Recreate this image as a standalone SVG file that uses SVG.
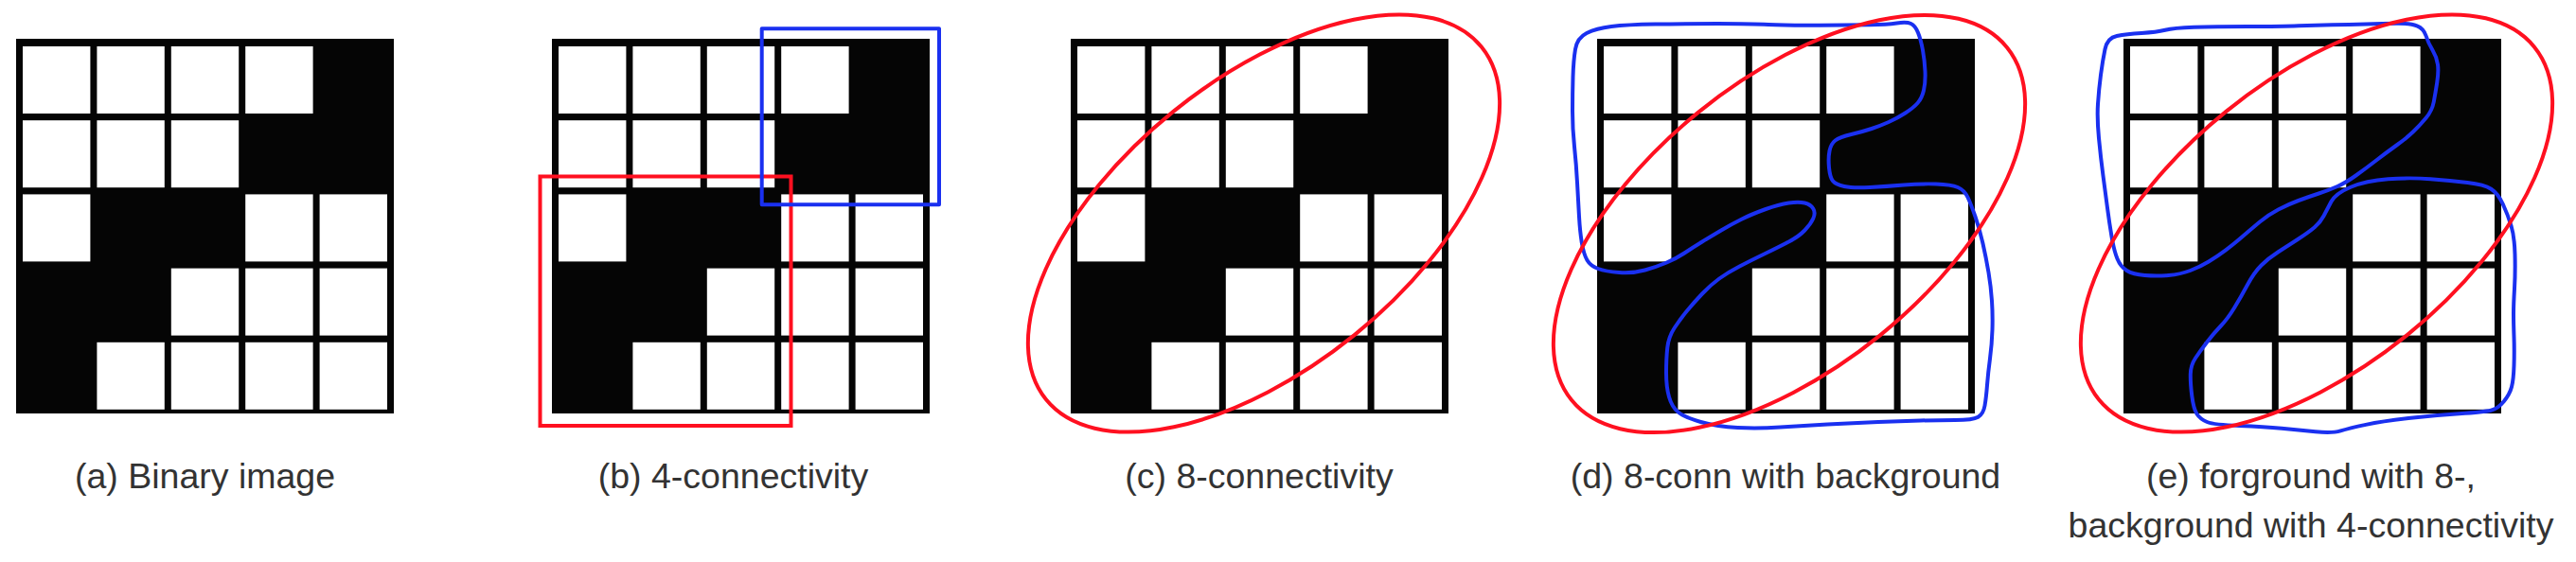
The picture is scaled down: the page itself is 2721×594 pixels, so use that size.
<svg xmlns="http://www.w3.org/2000/svg" xmlns:xlink="http://www.w3.org/1999/xlink" width="2721" height="594" viewBox="0 0 2721 594">
<style>
.lbl{font-family:"Liberation Sans",Arial,Helvetica,sans-serif;font-size:37.5px;fill:#333333;text-anchor:middle}
.red{fill:none;stroke:#ff1020;stroke-width:4}
.blue{fill:none;stroke:#1a30f0;stroke-width:4;stroke-linejoin:round;stroke-linecap:round}
.cell{fill:#ffffff}
</style>
<defs>
<g id="grid">
<rect x="0" y="41" width="399" height="396" fill="#050505"/>
<rect class="cell" x="7" y="49" width="71.4" height="71"/>
<rect class="cell" x="85.4" y="49" width="71.4" height="71"/>
<rect class="cell" x="163.8" y="49" width="71.4" height="71"/>
<rect class="cell" x="242.2" y="49" width="71.4" height="71"/>
<rect class="cell" x="7" y="127.2" width="71.4" height="71"/>
<rect class="cell" x="85.4" y="127.2" width="71.4" height="71"/>
<rect class="cell" x="163.8" y="127.2" width="71.4" height="71"/>
<rect class="cell" x="7" y="205.4" width="71.4" height="71"/>
<rect class="cell" x="242.2" y="205.4" width="71.4" height="71"/>
<rect class="cell" x="320.6" y="205.4" width="71.4" height="71"/>
<rect class="cell" x="163.8" y="283.6" width="71.4" height="71"/>
<rect class="cell" x="242.2" y="283.6" width="71.4" height="71"/>
<rect class="cell" x="320.6" y="283.6" width="71.4" height="71"/>
<rect class="cell" x="85.4" y="361.8" width="71.4" height="71"/>
<rect class="cell" x="163.8" y="361.8" width="71.4" height="71"/>
<rect class="cell" x="242.2" y="361.8" width="71.4" height="71"/>
<rect class="cell" x="320.6" y="361.8" width="71.4" height="71"/>
</g>
</defs>
<rect x="0" y="0" width="2721" height="594" fill="#ffffff"/>

<g id="panel-a">
<use xlink:href="#grid" href="#grid" x="17" y="0"/>
<text class="lbl" x="216.5" y="516">(a) Binary image</text>
</g>

<g id="panel-b">
<use xlink:href="#grid" href="#grid" x="583" y="0"/>
<rect class="red" x="570.5" y="186.5" width="265" height="263.5"/>
<rect class="blue" x="804.7" y="30.3" width="187.3" height="186" stroke-linejoin="miter"/>
<text class="lbl" x="774.5" y="516">(b) 4-connectivity</text>
</g>

<g id="panel-c">
<use xlink:href="#grid" href="#grid" x="1131" y="0"/>
<ellipse class="red" cx="1335" cy="236" rx="296" ry="152" transform="rotate(-39 1335 236)"/>
<text class="lbl" x="1330" y="516">(c) 8-connectivity</text>
</g>

<g id="panel-d">
<use xlink:href="#grid" href="#grid" x="1687" y="0"/>
<path class="blue" d="M1664,52 Q1666,40 1676,35 Q1686,30 1702,28 Q1718,26 1748.5,25.5 Q1779,25 1814.5,25 Q1850,25 1868,26 Q1886,27 1921.5,26.75 Q1957,26.5 1975,26.25 Q1993,26 2003.5,24.5 Q2014,23 2018.5,25 Q2023,27 2026,34.5 Q2029,42 2031,53 Q2033,64 2033.5,75.5 Q2034,87 2032,95.5 Q2030,104 2025.5,109 Q2021,114 2012.5,119.5 Q2004,125 1995,129 Q1986,133 1977,136 Q1968,139 1955.5,142 Q1943,145 1938.5,148.5 Q1934,152 1932.5,159.5 Q1931,167 1932,177.25 Q1933,187.5 1936,191.25 Q1939,195 1948,197 Q1957,199 1975,198 Q1993,197 2011,195.5 Q2029,194 2045,194.5 Q2061,195 2068,198 Q2075,201 2078.5,208.5 Q2082,216 2086.5,229 Q2091,242 2094.5,257.5 Q2098,273 2100.5,288 Q2103,303 2104,318 Q2105,333 2104.5,348.5 Q2104,364 2102,379 Q2100,394 2099,407 Q2098,420 2096.5,428.75 Q2095,437.5 2089.5,440.75 Q2084,444 2065,444 Q2046,444 2028.5,444.5 Q2011,445 1984,446 Q1957,447 1930.5,448.5 Q1904,450 1880.5,451.5 Q1857,453 1835.5,452 Q1814,451 1796.5,446 Q1779,441 1772.5,435.5 Q1766,430 1763,419.5 Q1760,409 1760,394 Q1760,379 1761.25,367.5 Q1762.5,356 1768.75,346.5 Q1775,337 1782,328.5 Q1789,320 1798,310.5 Q1807,301 1816,294.5 Q1825,288 1837.5,281.5 Q1850,275 1864.5,268 Q1879,261 1889.5,255.5 Q1900,250 1906.25,243.5 Q1912.5,237 1915.25,231 Q1918,225 1915.25,220.5 Q1912.5,216 1906.25,214.5 Q1900,213 1889.5,214.5 Q1879,216 1864.5,221.25 Q1850,226.5 1839.5,231.75 Q1829,237 1818,243.5 Q1807,250 1798,255.5 Q1789,261 1780,267 Q1771,273 1760.5,277.5 Q1750,282 1737.5,285.5 Q1725,289 1710.5,288 Q1696,287 1688,284 Q1680,281 1676.5,275 Q1673,269 1671,257.5 Q1669,246 1668,229 Q1667,212 1666,193 Q1665,174 1663,155 Q1661,136 1661,117.25 Q1661,98.5 1661.5,81.25 Q1662,64 1664,52 Z"/>
<ellipse class="red" cx="1890" cy="236.5" rx="296" ry="152" transform="rotate(-39 1890 236.5)"/>
<text class="lbl" x="1886" y="516">(d) 8-conn with background</text>
</g>

<g id="panel-e">
<use xlink:href="#grid" href="#grid" x="2243" y="0"/>
<path class="blue" d="M2223.5,52 Q2226,40 2236,38 Q2246,36 2262,35 Q2278,34 2287,31.75 Q2296,29.5 2317.3,28.75 Q2338.6,28 2374.3,28 Q2410,28 2428,27.25 Q2446,26.5 2463.5,26.25 Q2481,26 2499,25.5 Q2517,25 2531.5,24.8 Q2546,24.6 2553,27.3 Q2560,30 2562.5,37.75 Q2565,45.5 2569.5,53.05 Q2574,60.6 2575,68.2 Q2576,75.8 2574.25,87.15 Q2572.5,98.5 2570.75,107.75 Q2569,117 2562.5,124.8 Q2556,132.6 2549,139.3 Q2542,146 2531.5,153.5 Q2521,161 2510,169.5 Q2499,178 2488.5,185.5 Q2478,193 2469,197 Q2460,201 2449.3,204.5 Q2438.6,208 2427.8,212 Q2417,216 2406.5,221.5 Q2396,227 2387,234.5 Q2378,242 2369,249.8 Q2360,257.6 2351,264.3 Q2342,271 2333,276.5 Q2324,282 2313.5,286 Q2303,290 2290.5,291 Q2278,292 2265.5,291 Q2253,290 2246.5,286 Q2240,282 2236.5,273.5 Q2233,265 2230.5,250 Q2228,235 2226,219.75 Q2224,204.5 2221.5,185.75 Q2219,167 2217,146 Q2215,125 2216,109.85 Q2217,94.7 2219,79.35 Q2221,64 2223.5,52 Z"/>
<path class="blue" d="M2462.5,213.05 Q2467,204.5 2483,197.75 Q2499,191 2522.5,189.25 Q2546,187.5 2567.3,189.25 Q2588.6,191 2606.3,193 Q2624,195 2631.3,199.75 Q2638.6,204.5 2643.8,215.75 Q2649,227 2652.5,238.5 Q2656,250 2656.5,269 Q2657,288 2656,305 Q2655,322 2655,331.5 Q2655,341 2655.5,356 Q2656,371 2655.5,386.25 Q2655,401.5 2653,409.1 Q2651,416.7 2644.8,424.35 Q2638.6,432 2631.3,433.8 Q2624,435.6 2597.5,437.3 Q2571,439 2544,442 Q2517,445 2499,448.85 Q2481,452.7 2472.3,455.35 Q2463.6,458 2445.8,456.25 Q2428,454.5 2410,452.75 Q2392,451 2365.3,450 Q2338.6,449 2331.3,446 Q2324,443 2320.5,437.5 Q2317,432 2315.3,418.5 Q2313.6,405 2313.8,395.5 Q2314,386 2319,378.5 Q2324,371 2331.3,361.5 Q2338.6,352 2345.8,344.5 Q2353,337 2360,325.5 Q2367,314 2374,301 Q2381,288 2388.5,280.5 Q2396,273 2406.5,266.25 Q2417,259.5 2427.8,252.5 Q2438.6,245.5 2444.8,240.25 Q2451,235 2454.5,228.3 Q2458,221.6 2462.5,213.05 Z"/>
<ellipse class="red" cx="2447" cy="236" rx="296" ry="152" transform="rotate(-39 2447 236)"/>
<text class="lbl" x="2441" y="516">(e) forground with 8-,</text>
<text class="lbl" x="2441" y="568">background with 4-connectivity</text>
</g>
</svg>
